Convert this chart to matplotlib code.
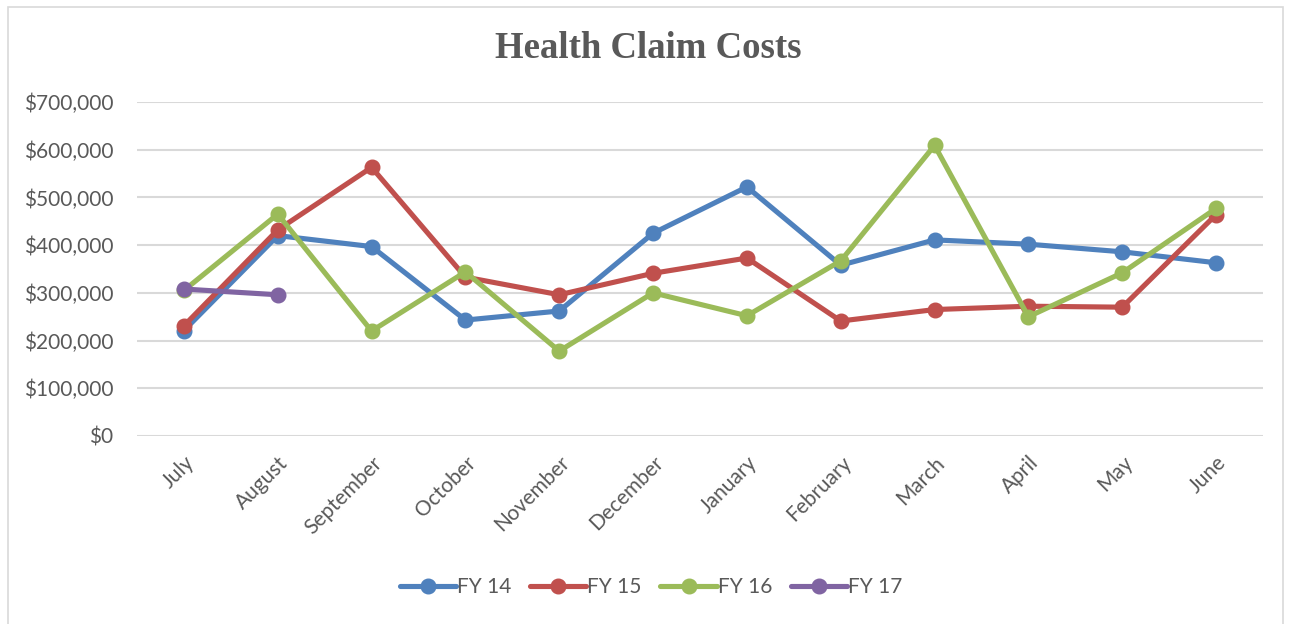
import matplotlib.pyplot as plt
from matplotlib.patches import Rectangle
from matplotlib.ticker import FuncFormatter

months = ['July', 'August', 'September', 'October', 'November', 'December',
          'January', 'February', 'March', 'April', 'May', 'June']
fy14 = [221000, 420000, 397000, 243000, 262000, 425000,
        522000, 358000, 411000, 402000, 386000, 363000]
fy15 = [231000, 432000, 563000, 333000, 296000, 341000,
        373000, 241000, 265000, 272000, 270000, 464000]
fy16 = [305000, 465000, 220000, 344000, 178000, 300000,
        252000, 367000, 609000, 250000, 342000, 477000]
fy17 = [308000, 296000]

series = [('FY 14', fy14, '#4F81BD'), ('FY 15', fy15, '#C0504D'),
          ('FY 16', fy16, '#9BBB59'), ('FY 17', fy17, '#8064A2')]
txt = '#595959'

fig = plt.figure(figsize=(12.91, 6.24), dpi=100)
ax = fig.add_axes([137 / 1291, 1 - 436 / 624, 1126 / 1291, 334 / 624])

for name, vals, col in series:
    ax.plot(range(len(vals)), vals, color=col, lw=3.7, marker='o', ms=10.5,
            label=name, solid_capstyle='round', zorder=3)

ax.set_xlim(-0.5, 11.5)
ax.set_ylim(0, 700000)
ax.set_yticks(range(0, 700001, 100000))
ax.yaxis.set_major_formatter(FuncFormatter(lambda v, p: '${:,.0f}'.format(v)))
ax.set_xticks(range(12))
ax.set_xticklabels(months, rotation=45, ha='right', rotation_mode='anchor')
ax.tick_params(length=0, labelsize=15, labelcolor=txt)
ax.tick_params(axis='y', pad=17)
ax.tick_params(axis='x', pad=12)
for lab in ax.get_xticklabels() + ax.get_yticklabels():
    lab.set_family('Lato')
ax.grid(axis='y', color='#D9D9D9', lw=1.5, zorder=0)
for s in ax.spines.values():
    s.set_visible(False)

fig.text(648 / 1291, 1 - 49 / 624, 'Health Claim Costs', ha='center', va='center',
         fontsize=26.5, fontweight='bold', family='Liberation Serif', color=txt)

leg = fig.legend(loc='center', bbox_to_anchor=(651 / 1291, 1 - 587 / 624), ncol=4,
                 frameon=False, prop={'family': 'Lato', 'size': 15},
                 handlelength=2.7, columnspacing=0.9, handletextpad=0.05)
for t in leg.get_texts():
    t.set_color(txt)

fig.patches.append(Rectangle((8 / 1291, -0.01), 1275 / 1291, 1 - 7 / 624 + 0.01,
                             transform=fig.transFigure, fill=False,
                             edgecolor='#D9D9D9', lw=1.2))

fig.savefig('out.png', dpi=100)
